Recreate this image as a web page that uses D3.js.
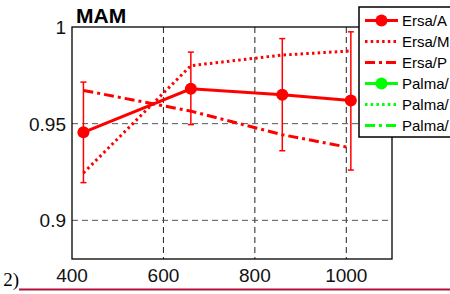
<!DOCTYPE html>
<html>
<head>
  <script src="https://d3js.org/d3.v7.min.js"></script>
  <style>
    body { margin: 0; background: white; }
    text { font-family: "Liberation Sans", Arial, sans-serif; }
  </style>
</head>
<body>
  <svg id="svg" width="450" height="294"></svg>
  <script>
    // ---------------- data ----------------
    const sizes = [425, 660, 860, 1010];
    const ersaA = [0.9455, 0.968, 0.965, 0.962];
    const ersaAlow = [0.9195, 0.9495, 0.936, 0.926];
    const ersaAhigh = [0.9715, 0.987, 0.994, 0.9975];
    const ersaM = [0.9245, 0.980, 0.9855, 0.9876];
    const ersaP = [0.9672, 0.9565, 0.9443, 0.9375];
    const xTicks = [400, 600, 800, 1000];
    const yTicks = [0.9, 0.95, 1];
    const legendLabels = ["Ersa/A", "Ersa/M", "Ersa/P", "Palma/", "Palma/", "Palma/"];
    const legendColors = ["#ff0000", "#ff0000", "#ff0000", "#00ff00", "#00ff00", "#00ff00"];
    const legendStyles = ["solid", "dot", "dashdot", "solid", "dot", "dashdot"];

    const svg = d3.select("#svg");
    const box = { left: 72, right: 392, top: 27, bottom: 259 };

    const xScale = d3.scaleLinear().domain([400, 1100]).range([box.left, box.right]);
    const yScale = d3.scaleLinear().domain([0.88, 1]).range([box.bottom, box.top]);

    const dashes = { solid: null, dot: "2.5,3.2", dashdot: "10,4,3,4" };

    // gridlines
    const grid = svg.append("g").attr("id", "gridlines");
    grid.selectAll("line.vx")
      .data(xTicks.filter(d => d > 400))
      .join("line")
      .attr("x1", d => xScale(d)).attr("x2", d => xScale(d))
      .attr("y1", box.top).attr("y2", box.bottom)
      .attr("stroke", "#222").attr("stroke-width", 1)
      .attr("stroke-dasharray", "6,4");
    grid.selectAll("line.hy")
      .data(yTicks.filter(d => d < 1))
      .join("line")
      .attr("x1", box.left).attr("x2", box.right)
      .attr("y1", d => yScale(d)).attr("y2", d => yScale(d))
      .attr("stroke", "#555").attr("stroke-width", 1)
      .attr("stroke-dasharray", "6,4");

    // axes box
    svg.append("rect")
      .attr("x", box.left).attr("y", box.top)
      .attr("width", box.right - box.left).attr("height", box.bottom - box.top)
      .attr("fill", "none").attr("stroke", "black").attr("stroke-width", 1.3);

    // tick labels
    svg.selectAll("text.xt")
      .data(xTicks)
      .join("text")
      .attr("x", d => xScale(d)).attr("y", 282)
      .attr("text-anchor", "middle").attr("font-size", 19)
      .attr("fill", "#111")
      .text(d => d);
    svg.selectAll("text.yt")
      .data(yTicks)
      .join("text")
      .attr("x", 66).attr("y", d => yScale(d) + 7)
      .attr("text-anchor", "end").attr("font-size", 19)
      .attr("fill", "#111")
      .text(d => d);

    // title
    svg.append("text")
      .attr("x", 76).attr("y", 23)
      .attr("font-size", 21).attr("font-weight", "bold")
      .text("MAM");

    // lines
    const line = d3.line()
      .x((d, i) => xScale(sizes[i]))
      .y(d => yScale(d));

    const plot = svg.append("g").attr("id", "plot");

    // error bars
    sizes.forEach((s, i) => {
      const x = xScale(s);
      plot.append("line")
        .attr("x1", x).attr("x2", x)
        .attr("y1", yScale(ersaAlow[i])).attr("y2", yScale(ersaAhigh[i]))
        .attr("stroke", "#ff0000").attr("stroke-width", 1.5);
      [ersaAlow[i], ersaAhigh[i]].forEach(v => {
        plot.append("line")
          .attr("x1", x - 3).attr("x2", x + 3)
          .attr("y1", yScale(v)).attr("y2", yScale(v))
          .attr("stroke", "#ff0000").attr("stroke-width", 1.5);
      });
    });

    plot.append("path")
      .attr("d", line(ersaM))
      .attr("fill", "none").attr("stroke", "#ff0000").attr("stroke-width", 3)
      .attr("stroke-dasharray", dashes.dot);
    plot.append("path")
      .attr("d", line(ersaP))
      .attr("fill", "none").attr("stroke", "#ff0000").attr("stroke-width", 3)
      .attr("stroke-dasharray", dashes.dashdot);
    plot.append("path")
      .attr("d", line(ersaA))
      .attr("fill", "none").attr("stroke", "#ff0000").attr("stroke-width", 3);
    plot.selectAll("circle")
      .data(ersaA)
      .join("circle")
      .attr("cx", (d, i) => xScale(sizes[i]))
      .attr("cy", d => yScale(d))
      .attr("r", 6)
      .attr("fill", "#ff0000");

    // legend
    const legend = svg.append("g").attr("id", "legend");
    legend.append("rect")
      .attr("x", 359).attr("y", 7)
      .attr("width", 120).attr("height", 130)
      .attr("fill", "white").attr("stroke", "black").attr("stroke-width", 1.5);
    const items = legend.selectAll("g.item")
      .data(legendLabels.map((label, i) => ({ label, color: legendColors[i], style: legendStyles[i] })))
      .join("g")
      .attr("transform", (d, i) => `translate(0, ${20.5 + i * 21})`);
    items.append("line")
      .attr("x1", 365).attr("x2", 398)
      .attr("y1", 0).attr("y2", 0)
      .attr("stroke", d => d.color).attr("stroke-width", 3)
      .attr("stroke-dasharray", d => dashes[d.style]);
    items.filter(d => d.style === "solid")
      .append("circle")
      .attr("cx", 381.5).attr("cy", 0).attr("r", 6)
      .attr("fill", d => d.color);
    items.append("text")
      .attr("x", 402).attr("y", 5.5)
      .attr("font-size", 15)
      .text(d => d.label);

    // bits of the page below the figure
    svg.append("text")
      .attr("x", 19).attr("y", 286)
      .attr("text-anchor", "end")
      .style("font-family", "'Liberation Serif', serif")
      .attr("font-size", 19)
      .text("2)");
    svg.append("line")
      .attr("x1", 19).attr("x2", 450)
      .attr("y1", 289.5).attr("y2", 289.5)
      .attr("stroke", "#b3133b").attr("stroke-width", 2);
  </script>
</body>
</html>
